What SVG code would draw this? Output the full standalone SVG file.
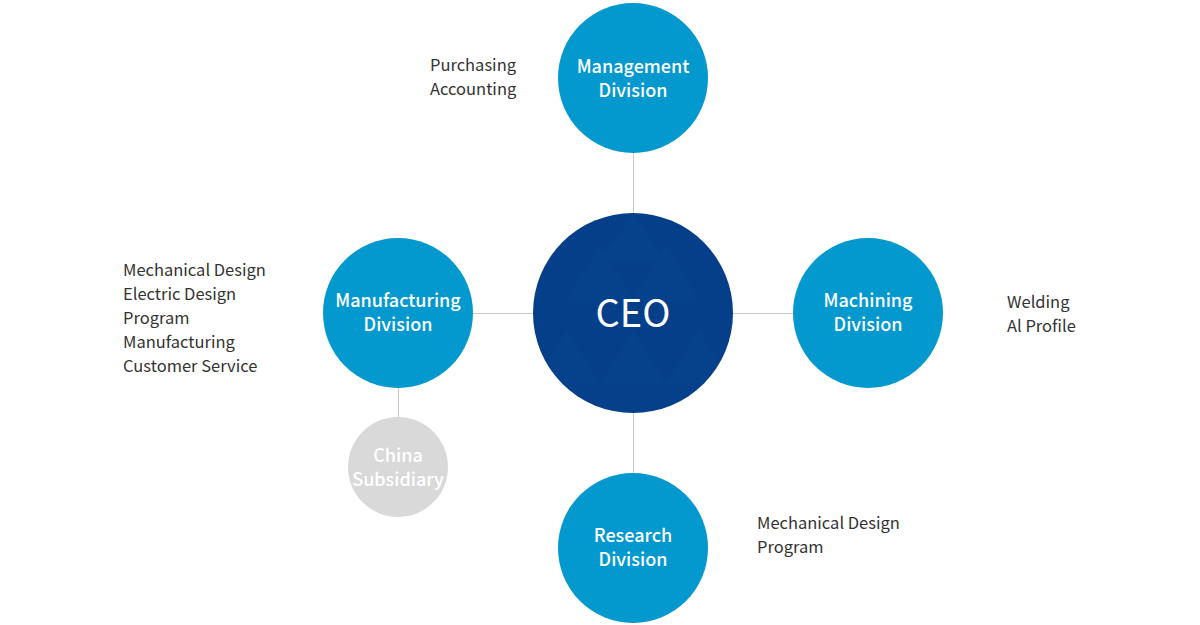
<svg xmlns="http://www.w3.org/2000/svg" width="1200" height="625" viewBox="0 0 1200 625">
<style>
.div{fill:#0399cf}
.sub{fill:#d9d9d9}
.lbl{font-family:"Noto Sans CJK KR","Noto Sans",sans-serif;font-size:18px;font-weight:500;fill:#fff;text-anchor:middle}
.lst{font-family:"Noto Sans CJK KR","Noto Sans",sans-serif;font-size:16.5px;fill:#333}
.ln{stroke:#c8c8c8;stroke-width:1;fill:none}
</style>
<defs>
<clipPath id="ceoClip"><circle cx="633" cy="313" r="100"/></clipPath>
</defs>
<rect width="1200" height="625" fill="#fff"/>
<g id="connectors">
<line class="ln" x1="633.5" y1="153" x2="633.5" y2="213"/>
<line class="ln" x1="633.5" y1="413" x2="633.5" y2="473"/>
<line class="ln" x1="473" y1="313.5" x2="533" y2="313.5"/>
<line class="ln" x1="733" y1="313.5" x2="793" y2="313.5"/>
<line class="ln" x1="398.5" y1="388" x2="398.5" y2="417"/>
</g>
<g id="ceo">
<circle cx="633" cy="313" r="100" fill="#063f8a"/>
<g clip-path="url(#ceoClip)" fill="#0a4a96" opacity="0.22">
<polygon points="600,245 633,300 567,300"/>
<polygon points="666,245 699,300 633,300"/>
<polygon points="567,330 600,385 534,385"/>
<polygon points="633,330 666,385 600,385"/>
<polygon points="699,330 732,385 666,385"/>
<polygon points="633,215 666,260 600,260"/>
</g>
<text x="633" y="327" font-family="'Noto Sans CJK KR','Noto Sans',sans-serif" font-size="38" font-weight="400" fill="#fff" text-anchor="middle">CEO</text>
</g>
<g id="management">
<circle class="div" cx="633" cy="78" r="75"/>
<text class="lbl" x="633" y="73">Management</text>
<text class="lbl" x="633" y="97">Division</text>
</g>
<g id="management-list">
<text class="lst" x="430" y="71">Purchasing</text>
<text class="lst" x="430" y="95">Accounting</text>
</g>
<g id="manufacturing">
<circle class="div" cx="398" cy="313" r="75"/>
<text class="lbl" x="398" y="307">Manufacturing</text>
<text class="lbl" x="398" y="331">Division</text>
</g>
<g id="manufacturing-list">
<text class="lst" x="123" y="276">Mechanical Design</text>
<text class="lst" x="123" y="300">Electric Design</text>
<text class="lst" x="123" y="324">Program</text>
<text class="lst" x="123" y="348">Manufacturing</text>
<text class="lst" x="123" y="372">Customer Service</text>
</g>
<g id="machining">
<circle class="div" cx="868" cy="313" r="75"/>
<text class="lbl" x="868" y="307">Machining</text>
<text class="lbl" x="868" y="331">Division</text>
</g>
<g id="machining-list">
<text class="lst" x="1007" y="308">Welding</text>
<text class="lst" x="1007" y="332">Al Profile</text>
</g>
<g id="research">
<circle class="div" cx="633" cy="548" r="75"/>
<text class="lbl" x="633" y="542">Research</text>
<text class="lbl" x="633" y="566">Division</text>
</g>
<g id="research-list">
<text class="lst" x="757" y="529">Mechanical Design</text>
<text class="lst" x="757" y="553">Program</text>
</g>
<g id="china">
<circle class="sub" cx="398" cy="467" r="50"/>
<text class="lbl" x="398" y="462">China</text>
<text class="lbl" x="398" y="486">Subsidiary</text>
</g>
</svg>
